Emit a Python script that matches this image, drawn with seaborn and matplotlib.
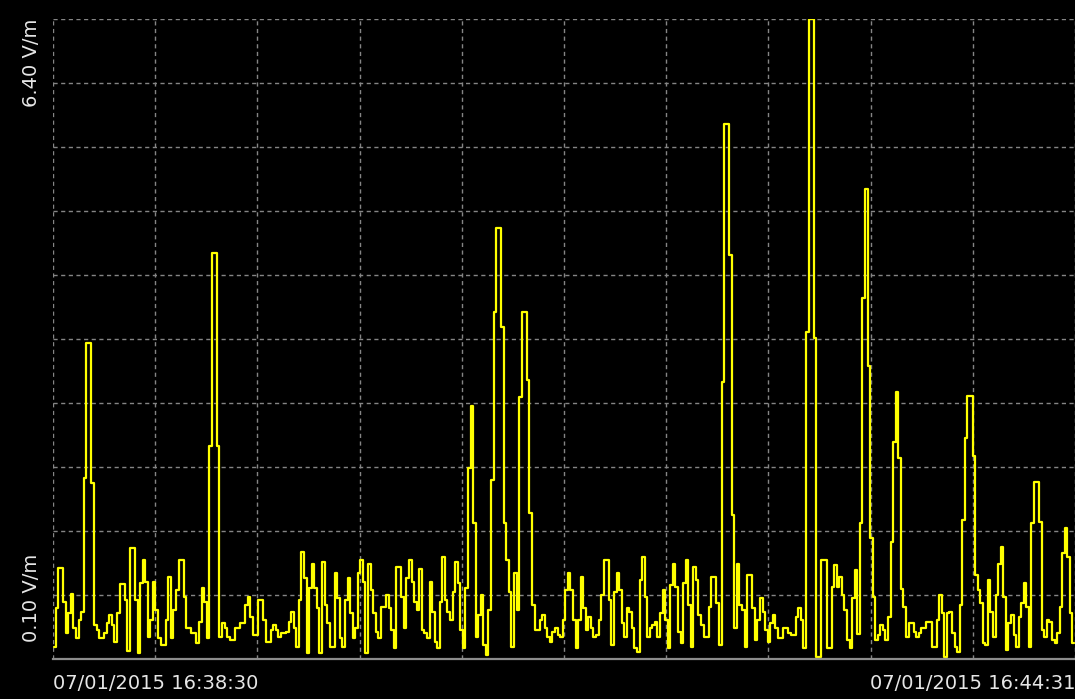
import matplotlib

matplotlib.use("Agg", force=True)
import matplotlib.pyplot as plt
import numpy as np
import pandas as pd
import seaborn as sns

# field strength readings in V/m, one per sample, read left to right
FIELD_START = [
    0.22, 0.60, 1.00, 1.00, 0.66, 0.36, 0.55, 0.74, 0.41, 0.31, 0.48, 0.56, 1.88, 3.21, 3.21, 1.83,
    0.43, 0.39, 0.31, 0.31, 0.36, 0.45, 0.53, 0.43, 0.27, 0.55, 0.84, 0.84, 0.68, 0.18, 1.19, 1.19,
    0.68, 0.16, 0.85, 1.07, 0.86, 0.32, 0.48, 0.86, 0.58, 0.31, 0.24, 0.24, 0.48, 0.91, 0.31, 0.58,
    0.78, 1.07, 1.07, 0.71, 0.41, 0.41, 0.36, 0.36, 0.26, 0.46, 0.80, 0.66, 0.31, 2.20, 4.10, 4.10,
    2.20,
]
FIELD_QUIET = [
    0.32, 0.45, 0.41, 0.32, 0.29, 0.29, 0.41, 0.41, 0.45, 0.45, 0.63, 0.71, 0.51, 0.34, 0.34, 0.68,
    0.68, 0.48, 0.27, 0.27, 0.39, 0.43, 0.39, 0.32, 0.36, 0.36, 0.37, 0.46, 0.56, 0.41, 0.22, 0.68,
    1.15, 0.90, 0.16, 0.80, 1.04, 0.80, 0.60, 0.16, 1.05, 0.63, 0.45, 0.22, 0.22, 0.95, 0.70, 0.31,
    0.22, 0.68, 0.90, 0.55, 0.31, 0.41, 0.95, 1.07, 0.86, 0.16, 1.04, 0.78, 0.55, 0.37, 0.31, 0.61,
    0.61, 0.73, 0.60, 0.39, 0.21, 1.01, 1.01, 0.71, 0.41, 0.90, 1.07, 0.86, 0.66, 0.58, 0.99, 0.39,
    0.36, 0.31, 0.86, 0.56, 0.27, 0.21, 0.66, 1.10, 0.68,
]
FIELD_BURST = [
    0.56, 0.48, 0.76, 1.05, 0.85, 0.39, 0.21, 0.80, 1.98, 2.59, 1.44, 0.32, 0.53, 0.73, 0.24, 0.14,
    0.58, 1.86, 3.52, 4.34, 4.34, 3.37, 1.44, 1.07, 0.76, 0.22, 0.95, 0.58, 2.68, 3.52, 3.52, 2.85,
    1.54,
]
FIELD_MIDDLE = [
    0.63, 0.39, 0.39, 0.48, 0.53, 0.41, 0.32, 0.27, 0.37, 0.41, 0.34, 0.32, 0.48, 0.78, 0.95, 0.78,
    0.48, 0.21, 0.48, 0.91, 0.60, 0.39, 0.51, 0.41, 0.32, 0.34, 0.48, 0.73, 1.07, 1.07, 0.68, 0.24,
    0.76, 0.95, 0.78, 0.45, 0.32, 0.60, 0.56, 0.41, 0.21, 0.17, 0.88, 1.10, 0.71, 0.32, 0.41, 0.43,
    0.46, 0.32, 0.55, 0.78, 0.48, 0.21, 0.83, 1.04, 0.81, 0.37, 0.26, 0.85, 1.07, 0.63, 0.22, 1.01,
    0.88, 0.53, 0.43, 0.32, 0.32, 0.61, 0.91, 0.91, 0.65, 0.24,
]
FIELD_PEAKS = [
    2.83, 5.37, 5.37, 4.08, 1.52, 0.41, 1.04, 0.63, 0.58, 0.22, 0.93, 0.93, 0.60, 0.29, 0.48, 0.70,
    0.56, 0.39, 0.27, 0.45, 0.53, 0.41, 0.31, 0.31, 0.41, 0.41, 0.36, 0.34, 0.34, 0.51, 0.60, 0.48,
    0.21, 3.32, 6.40, 6.40, 3.26, 0.12,
]
FIELD_END = [
    0.12, 1.07, 1.07, 0.21, 0.21, 0.81, 1.03, 0.81, 0.91, 0.73, 0.58, 0.29, 0.21, 0.70, 0.98, 0.35,
    1.44, 3.65, 4.73, 2.98, 1.29, 0.71, 0.29, 0.34, 0.43, 0.39, 0.29, 0.51, 1.25, 2.24, 2.73, 2.08,
    0.79, 0.61, 0.32, 0.45, 0.45, 0.37, 0.32, 0.36, 0.41, 0.41, 0.46, 0.46, 0.22, 0.22, 0.48, 0.73,
    0.55, 0.12, 0.55, 0.56, 0.36, 0.22, 0.17, 0.63, 1.47, 2.28, 2.69, 2.69, 2.10, 0.93, 0.78, 0.65,
    0.26, 0.24, 0.88, 0.56, 0.32, 0.73, 1.04, 1.20, 0.71, 0.19, 0.45, 0.53, 0.34, 0.22, 0.51, 0.65,
    0.85, 0.61, 0.22, 1.44, 1.84, 1.84, 1.45, 0.39, 0.32, 0.48, 0.46, 0.29, 0.26, 0.36, 0.61, 1.14,
    1.39, 1.10, 0.55, 0.26,
]

Y_MIN, Y_MAX = 0.10, 6.40
Y_LABELS = ["0.10 V/m", "6.40 V/m"]
X_LABELS = ["07/01/2015 16:38:30", "07/01/2015 16:44:31"]

LINE_COLOR = "#ffff00"
GRID_COLOR = "#858585"
TEXT_COLOR = "#e6e6e6"


def set_style() -> None:
    sns.set_theme(style="dark")
    plt.rcParams["font.family"] = ["DejaVu Sans"]
    plt.rcParams["figure.facecolor"] = "black"
    plt.rcParams["axes.facecolor"] = "black"


def main() -> None:
    set_style()
    values = FIELD_START + FIELD_QUIET + FIELD_BURST + FIELD_MIDDLE + FIELD_PEAKS + FIELD_END
    df = pd.DataFrame({"sample": np.arange(len(values)), "field": values})

    fig = plt.figure(figsize=(10.75, 6.99), dpi=100)
    ax = fig.add_axes([53 / 1075, 40 / 699, 1022 / 1075, 640 / 699])

    sns.lineplot(
        data=df,
        x="sample",
        y="field",
        drawstyle="steps-mid",
        color=LINE_COLOR,
        linewidth=1.6,
        ax=ax,
    )

    n = len(values)
    ax.set_xlim(-0.5, n - 0.5)
    ax.set_ylim(Y_MIN, Y_MAX)
    ax.set_xticks(np.linspace(-0.5, n - 0.5, 11))
    ax.set_yticks(np.linspace(Y_MIN, Y_MAX, 11))
    ax.grid(True, color=GRID_COLOR, linestyle=(0, (3.0, 2.5)), linewidth=1.0)
    ax.set_axisbelow(True)
    ax.tick_params(length=0, labelbottom=False, labelleft=False)
    ax.set_xlabel("")
    ax.set_ylabel("")
    for side in ("top", "right", "left"):
        ax.spines[side].set_visible(False)
    ax.spines["bottom"].set_color("#8c8c8c")
    ax.spines["bottom"].set_linewidth(1.6)

    # rotated range labels on the left, time stamps under both ends
    ax.text(-0.0215, 0.027, Y_LABELS[0], rotation=90, ha="center", va="bottom",
            transform=ax.transAxes, color=TEXT_COLOR, fontsize=14)
    ax.text(-0.0215, 1.0, Y_LABELS[1], rotation=90, ha="center", va="top",
            transform=ax.transAxes, color=TEXT_COLOR, fontsize=14)
    ax.text(0.0, -0.039, X_LABELS[0], ha="left", va="center",
            transform=ax.transAxes, color=TEXT_COLOR, fontsize=14)
    ax.text(1.0, -0.039, X_LABELS[1], ha="right", va="center",
            transform=ax.transAxes, color=TEXT_COLOR, fontsize=14)

    fig.savefig("out.png", dpi=100, facecolor="black")
    plt.close(fig)


if __name__ == "__main__":
    main()
